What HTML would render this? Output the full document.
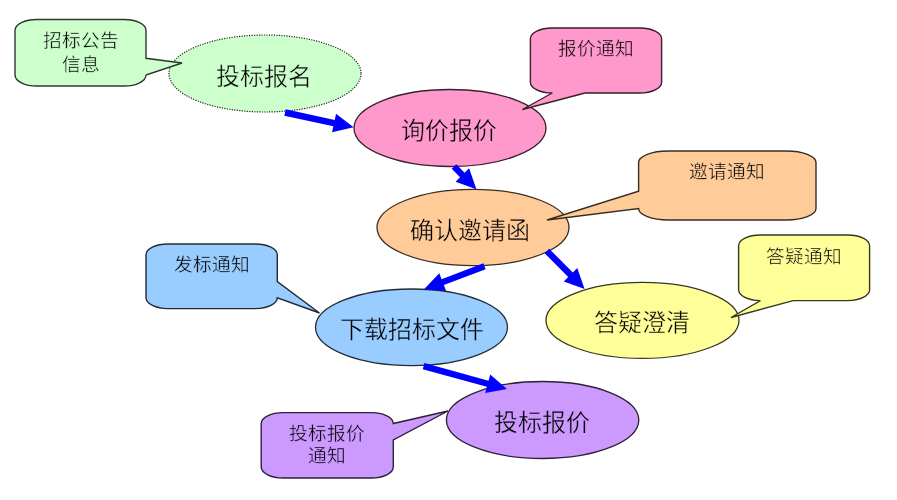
<!DOCTYPE html><html lang="zh-CN"><head><meta charset="utf-8"><style>html,body{margin:0;padding:0;background:#fff;width:897px;height:500px;overflow:hidden}svg{display:block}text{font-family:"Liberation Sans",sans-serif;fill:#000}svg{will-change:transform}</style></head><body>
<svg width="897" height="500" viewBox="0 0 897 500">
<ellipse cx="265" cy="73.5" rx="96" ry="38.5" fill="#CCFFCC" stroke="#222" stroke-width="1.2" stroke-dasharray="1.2 1.3"/>
<ellipse cx="450" cy="128" rx="96" ry="38.5" fill="#FF99CC" stroke="#38212c" stroke-width="1.3"/>
<ellipse cx="473" cy="227.5" rx="96" ry="38.2" fill="#FFCC99" stroke="#382c21" stroke-width="1.3"/>
<ellipse cx="642.5" cy="320.4" rx="96.5" ry="38" fill="#FFFF99" stroke="#383821" stroke-width="1.3"/>
<ellipse cx="411.5" cy="327.3" rx="96" ry="38.3" fill="#99CCFF" stroke="#212c38" stroke-width="1.3"/>
<ellipse cx="542.6" cy="420" rx="96.2" ry="38.5" fill="#CC99FF" stroke="#2c2138" stroke-width="1.3"/>
<path d="M36.83333333333333,19.5 H124.16666666666667 A21.833333333333332,11.083333333333334 0 0 1 146,30.583333333333336 V58.29 L182,63 L146,74.92 V74.91666666666667 A21.833333333333332,11.083333333333334 0 0 1 124.16666666666667,86 H36.83333333333333 A21.833333333333332,11.083333333333334 0 0 1 15,74.91666666666667 V30.583333333333336 A21.833333333333332,11.083333333333334 0 0 1 36.83333333333333,19.5Z" fill="#CCFFCC" stroke="#2c382c" stroke-width="1.4" stroke-linejoin="miter"/>
<path d="M552.2666666666667,28 H639.7333333333333 A21.866666666666674,10.833333333333334 0 0 1 661.6,38.833333333333336 V82.16666666666667 A21.866666666666674,10.833333333333334 0 0 1 639.7333333333333,93 H585.07 L522.4,109.5 L552.27,93 H552.2666666666667 A21.866666666666674,10.833333333333334 0 0 1 530.4,82.16666666666667 V38.833333333333336 A21.866666666666674,10.833333333333334 0 0 1 552.2666666666667,28Z" fill="#FF99CC" stroke="#38212c" stroke-width="1.4" stroke-linejoin="miter"/>
<path d="M668.1666666666667,151 H786.4333333333334 A29.566666666666663,11.5 0 0 1 816,162.5 V208.5 A29.566666666666663,11.5 0 0 1 786.4333333333334,220 H668.1666666666667 A29.566666666666663,11.5 0 0 1 638.6,208.5 V208.50 L547,220 L638.6,191.25 V162.5 A29.566666666666663,11.5 0 0 1 668.1666666666667,151Z" fill="#FFCC99" stroke="#382c21" stroke-width="1.4" stroke-linejoin="miter"/>
<path d="M760.4333333333334,235 H847.7666666666667 A21.833333333333332,10.933333333333337 0 0 1 869.6,245.93333333333334 V289.6666666666667 A21.833333333333332,10.933333333333337 0 0 1 847.7666666666667,300.6 H793.18 L731,317.5 L760.43,300.6 H760.4333333333334 A21.833333333333332,10.933333333333337 0 0 1 738.6,289.6666666666667 V245.93333333333334 A21.833333333333332,10.933333333333337 0 0 1 760.4333333333334,235Z" fill="#FFFF99" stroke="#383821" stroke-width="1.4" stroke-linejoin="miter"/>
<path d="M167.88333333333333,244 H255.41666666666669 A21.883333333333336,10.766666666666671 0 0 1 277.3,254.76666666666668 V281.68 L319.5,313 L277.3,297.83 V297.83333333333337 A21.883333333333336,10.766666666666671 0 0 1 255.41666666666669,308.6 H167.88333333333333 A21.883333333333336,10.766666666666671 0 0 1 146,297.83333333333337 V254.76666666666668 A21.883333333333336,10.766666666666671 0 0 1 167.88333333333333,244Z" fill="#99CCFF" stroke="#212c38" stroke-width="1.4" stroke-linejoin="miter"/>
<path d="M283.21666666666664,412.6 H371.28333333333336 A22.01666666666667,10.899999999999997 0 0 1 393.3,423.5 V423.50 L448,411 L393.3,439.85 V467.1 A22.01666666666667,10.899999999999997 0 0 1 371.28333333333336,478 H283.21666666666664 A22.01666666666667,10.899999999999997 0 0 1 261.2,467.1 V423.5 A22.01666666666667,10.899999999999997 0 0 1 283.21666666666664,412.6Z" fill="#CC99FF" stroke="#2c2138" stroke-width="1.4" stroke-linejoin="miter"/>
<polygon points="284.33,115.63 333.37,126.21 332.05,132.37 353.60,127.30 336.05,113.80 334.72,119.95 285.67,109.37" fill="#0000FF"/>
<polygon points="451.72,168.75 460.07,177.21 455.59,181.64 476.40,189.20 469.11,168.29 464.63,172.72 456.28,164.25" fill="#0000FF"/>
<polygon points="544.63,253.25 568.24,277.06 563.77,281.49 584.60,289.00 577.26,268.11 572.79,272.55 549.17,248.75" fill="#0000FF"/>
<polygon points="483.37,263.31 441.57,279.13 439.34,273.24 424.00,289.20 446.07,291.00 443.84,285.11 485.63,269.29" fill="#0000FF"/>
<polygon points="422.76,369.29 486.86,386.81 485.20,392.89 507.00,389.00 490.21,374.56 488.55,380.64 424.44,363.11" fill="#0000FF"/>
<text x="264" y="84.8" font-size="24" text-anchor="middle" stroke="#CCFFCC" stroke-width="0.4">投标报名</text>
<text x="449" y="138.8" font-size="24" text-anchor="middle" stroke="#FF99CC" stroke-width="0.4">询价报价</text>
<text x="470.3" y="238.8" font-size="24" text-anchor="middle" stroke="#FFCC99" stroke-width="0.4">确认邀请函</text>
<text x="642" y="330.8" font-size="24" text-anchor="middle" stroke="#FFFF99" stroke-width="0.4">答疑澄清</text>
<text x="411.5" y="338" font-size="24" text-anchor="middle" stroke="#99CCFF" stroke-width="0.4">下载招标文件</text>
<text x="542.1" y="431" font-size="24" text-anchor="middle" stroke="#CC99FF" stroke-width="0.4">投标报价</text>
<text x="81" y="47" font-size="18.7" text-anchor="middle" stroke="#CCFFCC" stroke-width="0.4">招标公告</text>
<text x="81" y="70.7" font-size="18.7" text-anchor="middle" stroke="#CCFFCC" stroke-width="0.4">信息</text>
<text x="595.7" y="55" font-size="18.7" text-anchor="middle" stroke="#FF99CC" stroke-width="0.4">报价通知</text>
<text x="727" y="177.5" font-size="18.7" text-anchor="middle" stroke="#FFCC99" stroke-width="0.4">邀请通知</text>
<text x="804" y="263" font-size="18.7" text-anchor="middle" stroke="#FFFF99" stroke-width="0.4">答疑通知</text>
<text x="212" y="270.5" font-size="18.7" text-anchor="middle" stroke="#99CCFF" stroke-width="0.4">发标通知</text>
<text x="327" y="440" font-size="18.7" text-anchor="middle" stroke="#CC99FF" stroke-width="0.4">投标报价</text>
<text x="327" y="462.3" font-size="18.7" text-anchor="middle" stroke="#CC99FF" stroke-width="0.4">通知</text>
</svg></body></html>
